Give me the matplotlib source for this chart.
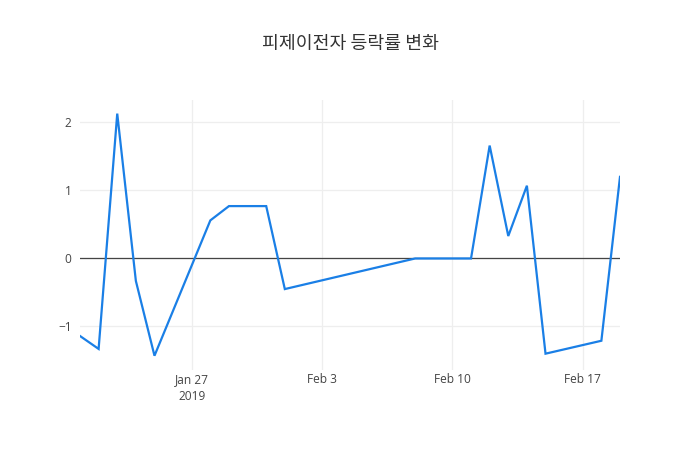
import matplotlib
matplotlib.use('Agg')
import matplotlib.pyplot as plt
import matplotlib.dates as mdates
import numpy as np
import pandas as pd

dates = ['2019-01-21', '2019-01-22', '2019-01-23', '2019-01-24', '2019-01-25',
         '2019-01-28', '2019-01-29', '2019-01-31', '2019-02-01', '2019-02-08',
         '2019-02-11', '2019-02-12', '2019-02-13', '2019-02-14', '2019-02-15',
         '2019-02-18', '2019-02-19']
change = [-1.14, -1.33, 2.13, -0.33, -1.43,
          0.56, 0.77, 0.77, -0.45, 0.0,
          0.0, 1.66, 0.33, 1.07, -1.40,
          -1.21, 1.20]
tick_dates = ['2019-01-27', '2019-02-03', '2019-02-10', '2019-02-17']
tick_labels = ['Jan 27\n2019', 'Feb 3', 'Feb 10', 'Feb 17']
y_ticks = [-1, 0, 1, 2]

x = pd.to_datetime(dates)

plt.rcParams['font.family'] = ['Open Sans', 'Noto Sans CJK KR', 'DejaVu Sans']

fig = plt.figure(figsize=(7, 4.5), dpi=100)
ax = fig.add_axes([80/700, 80/450, 540/700, 270/450])

ax.plot(x, change, color='#1a7fe6', linewidth=1.6, zorder=3, solid_joinstyle='miter')
ax.axhline(0, color='#444444', linewidth=0.9, zorder=2)

ax.set_xlim(x[0], x[-1])
ax.set_ylim(-1.64, 2.33)

ax.set_xticks(pd.to_datetime(tick_dates))
ax.set_xticklabels(tick_labels)
ax.set_yticks(y_ticks)
ax.set_yticklabels(['\u22121', '0', '1', '2'])

ax.grid(True, color='#eeeeee', linewidth=0.9, zorder=0)
ax.set_axisbelow(True)
for s in ax.spines.values():
    s.set_visible(False)
ax.tick_params(axis='both', length=0, labelsize=8.6, colors='#444444')
ax.tick_params(axis='x', pad=2)
ax.tick_params(axis='y', pad=6)
for lab in ax.get_xticklabels():
    lab.set_linespacing(1.45)

fig.text(0.5, 1 - 44/450, '피제이전자 등락률 변화', ha='center', va='center',
         fontsize=13.2, color='#333333', family=['Noto Sans CJK KR', 'DejaVu Sans'])

fig.savefig('out.png', dpi=100)
